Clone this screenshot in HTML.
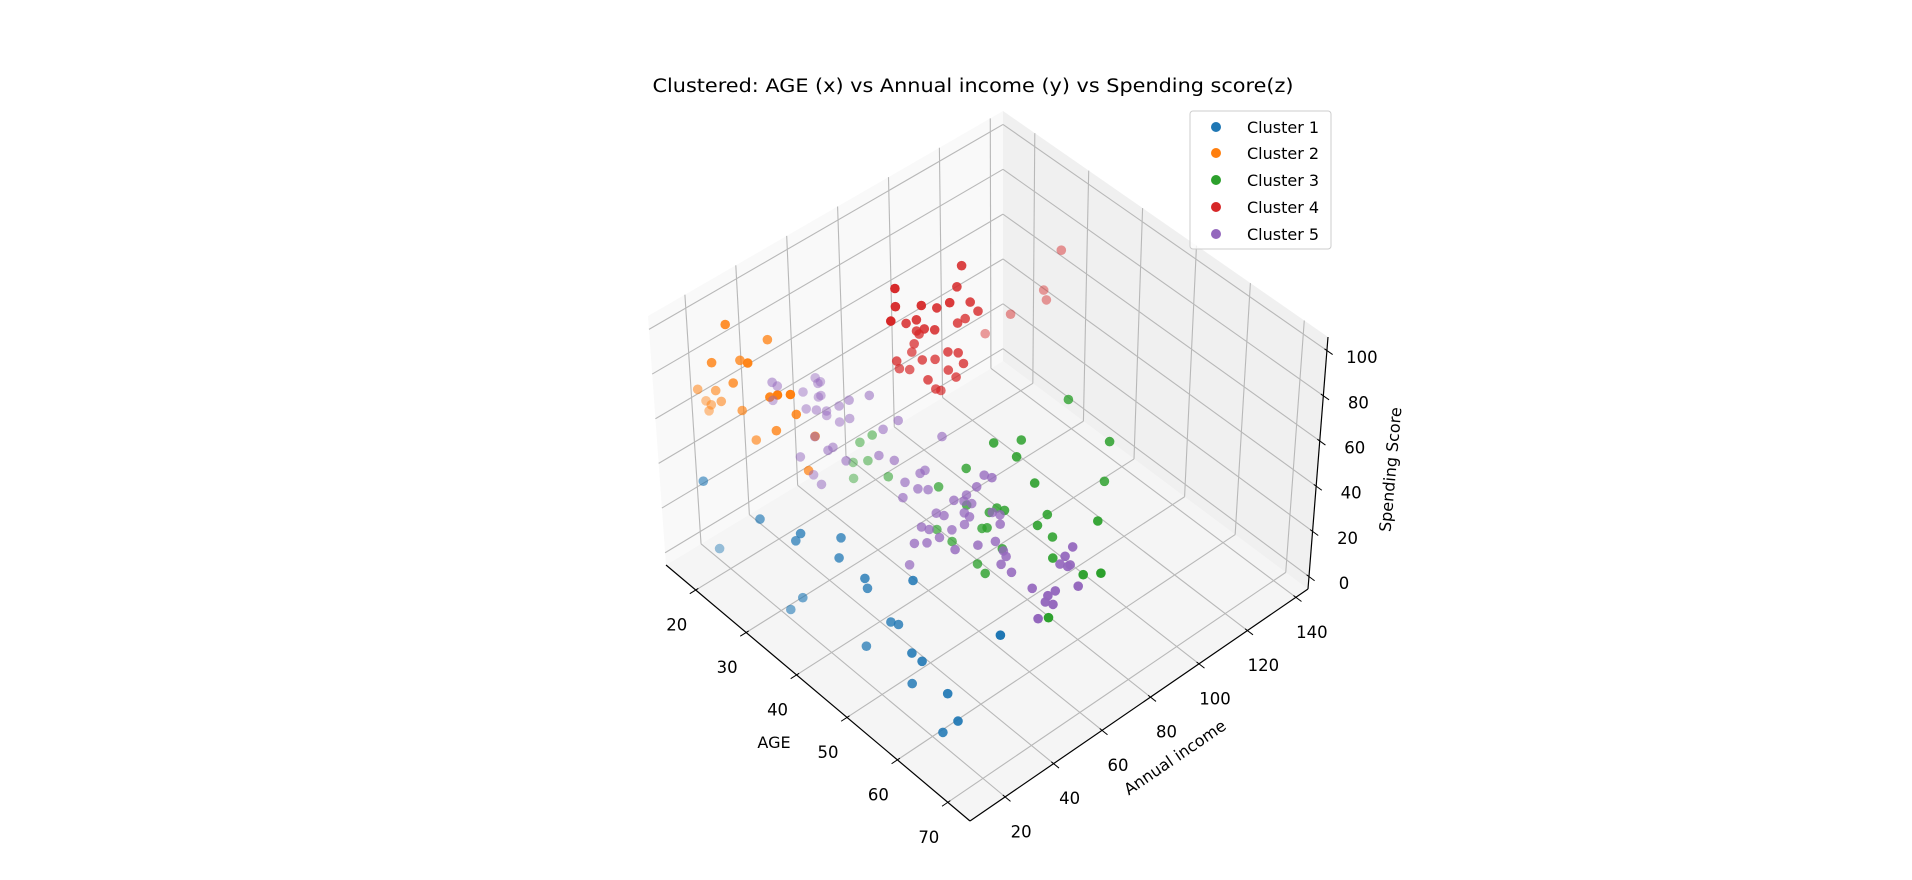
<!DOCTYPE html>
<html><head><meta charset="utf-8"><title>Clustered 3D scatter</title>
<style>html,body{margin:0;padding:0;background:#fff;}svg{display:block;}text{font-family:"DejaVu Sans","Liberation Sans",sans-serif;fill:#000;}</style>
</head><body>
<svg id="chart" xmlns="http://www.w3.org/2000/svg" width="1912" height="880" viewBox="0 0 1912 880">
<rect width="1912" height="880" fill="#fff"/>
<text x="973" y="92" text-anchor="middle" font-size="18.5" textLength="641" lengthAdjust="spacingAndGlyphs">Clustered: AGE (x) vs Annual income (y) vs Spending score(z)</text>
<g id="panes"></g>
<g id="grid"></g>
<g id="axes"></g>
<g id="points"></g>
<text x="774" y="748" text-anchor="middle" font-size="16">AGE</text>
<text x="0" y="0" text-anchor="middle" font-size="16" transform="translate(1178,762) rotate(-34.3)">Annual income</text>
<text x="0" y="0" text-anchor="middle" font-size="16" transform="translate(1396,470) rotate(-85)">Spending Score</text>
<g>
<rect x="1190" y="111" width="141" height="138" rx="3" fill="#fff" fill-opacity="0.8" stroke="#cccccc" stroke-width="1"/>
<g><circle cx="1216" cy="127" r="5" fill="#1f77b4"/><text x="1247" y="133" font-size="16">Cluster 1</text></g>
<g><circle cx="1216" cy="153" r="5" fill="#ff7f0e"/><text x="1247" y="159" font-size="16">Cluster 2</text></g>
<g><circle cx="1216" cy="180" r="5" fill="#2ca02c"/><text x="1247" y="186" font-size="16">Cluster 3</text></g>
<g><circle cx="1216" cy="207" r="5" fill="#d62728"/><text x="1247" y="213" font-size="16">Cluster 4</text></g>
<g><circle cx="1216" cy="234" r="5" fill="#9467bd"/><text x="1247" y="240" font-size="16">Cluster 5</text></g>
</g>
</svg>
<script>
// ---- data ----
var ageTicks = [20, 30, 40, 50, 60, 70];
var incomeTicks = [20, 40, 60, 80, 100, 120, 140];
var scoreTicks = [0, 20, 40, 60, 80, 100];
var clusterNames = ["Cluster 1", "Cluster 2", "Cluster 3", "Cluster 4", "Cluster 5"];
var clusterColors = ["#1f77b4", "#ff7f0e", "#2ca02c", "#d62728", "#9467bd"];

var age1 = [18,20,27,33,34,38,39,44,44,50,35,34,49,50,47,65,55,57,56,62,65,63];
var income1 = [15,16,19,21,21,29,26,26,27,33,19,16,26,27,20,37,22,22,20,22,20,18];
var score1 = [33,6,30,30,35,35,30,30,25,35,10,5,20,20,10,35,20,20,10,15,10,3];

var age2 = [18,22,19,21,23,18,20,22,19,20,20,21,24,27,28,29,30,29,27,33,34];
var income2 = [27,35,19,26,25,15,18,21,16,16,15,18,20,25,26,29,29,23,19,30,25];
var score2 = [95,90,85,85,88,74,75,80,70,70,68,72,72,80,82,82,75,70,65,70,60];

var age3 = [19,20,19,21,25,20,33,36,38,40,41,45,40,48,50,42,43,41,38,48,48,54,41,42,35,38,50,45,52,43,45,57,59,57];
var income3 = [76,79,73,75,75,71,79,84,91,98,94,93,117,117,111,84,85,83,80,92,88,100,80,80,74,74,90,80,86,74,73,88,91,74];
var score3 = [12,15,5,8,8,1,15,25,35,35,32,28,40,35,25,18,18,15,15,20,18,22,10,12,3,3,15,8,12,2,2,12,14,3];

var age4 = [34,35,36,34,33,30,31,27,28,32,33,34,30,31,33,33,30,29,29,31,30,30,32,30,30,30,32,31,30,34,35,36,33,35,36,34,35,35];
var income4 = [126,117,116,106,98,95,91,75,73,86,92,93,79,83,90,87,77,75,69,78,77,78,80,76,75,69,75,72,70,81,83,83,78,79,80,73,74,76];
var score4 = [90,80,78,75,70,97,92,95,90,90,88,85,90,88,82,82,85,83,88,82,80,78,82,75,72,72,72,68,68,75,75,72,72,70,68,68,65,63];

var age5 = [20,21,21,18,18,20,22,22,18,22,23,24,24,25,26,28,26,27,33,32,25,28,28,25,34,36,31,39,27,29,39,40,40,41,42,48,49,48,40,47,46,47,48,45,46,48,49,51,52,49,45,46,48,48,53,46,47,51,54,53,56,46,57,57,59,64,64,64,65,65,68,63,66,66,66,67,67];
var income5 = [57,56,57,44,46,52,54,55,44,49,51,53,53,56,58,62,54,56,63,59,46,47,45,40,53,55,46,68,41,40,53,57,59,54,56,66,67,63,50,61,58,60,61,53,54,58,58,63,64,56,47,48,53,48,62,42,45,48,58,53,57,40,56,54,54,65,68,63,65,64,62,54,57,54,53,54,48];
var score5 = [55,55,55,58,55,52,52,52,50,50,50,50,48,52,55,58,48,50,55,52,45,45,45,40,48,48,45,55,35,35,45,48,48,45,45,55,55,52,42,48,46,46,46,42,42,44,44,46,46,42,40,40,40,40,45,38,38,40,42,42,42,30,42,40,40,48,50,46,46,46,44,40,42,42,40,40,38];

var ages = [age1, age2, age3, age4, age5];
var incomes = [income1, income2, income3, income4, income5];
var scores = [score1, score2, score3, score4, score5];

// ---- axis limits & projection ----
var AMIN = 14.1, AMAX = 74.4, IMIN = 5.5, IMAX = 145, ZMIN = -5.5, ZMAX = 106;
var FL = [[666,565],[970,821],[1308,589],[1003,361]];
var TP = [[648,316],[974,556],[1328,337],[1003,111]];
function bil(c,u,v){
  return [c[0][0]*(1-u)*(1-v)+c[1][0]*u*(1-v)+c[2][0]*u*v+c[3][0]*(1-u)*v,
          c[0][1]*(1-u)*(1-v)+c[1][1]*u*(1-v)+c[2][1]*u*v+c[3][1]*(1-u)*v];
}
function P(u,v,w){ var a=bil(FL,u,v), b=bil(TP,u,v); return [a[0]+(b[0]-a[0])*w, a[1]+(b[1]-a[1])*w]; }
function xs(a){ return (a-AMIN)/(AMAX-AMIN); }
function ys(i){ return (i-IMIN)/(IMAX-IMIN); }
function zs(z){ return (z-ZMIN)/(ZMAX-ZMIN); }

var NS = "http://www.w3.org/2000/svg";
function mk(tag, attrs, parent){ var e=document.createElementNS(NS,tag); for(var k in attrs) e.setAttribute(k,attrs[k]); parent.appendChild(e); return e; }
function pts(arr){ return arr.map(function(p){return p[0].toFixed(1)+","+p[1].toFixed(1);}).join(" "); }
function line(p,q,col,wd,parent,name){
  var l = mk("line",{x1:p[0],y1:p[1],x2:q[0],y2:q[1],stroke:col,"stroke-width":wd},parent);
  
  
  return l;
}

var gp = document.getElementById("panes");
var floorPane = mk("polygon",{points:pts([P(0,0,0),P(1,0,0),P(1,1,0),P(0,1,0)]),fill:"#f5f5f5"},gp);


var leftPane = mk("polygon",{points:pts([P(0,0,0),P(0,1,0),P(0,1,1),P(0,0,1)]),fill:"#f9f9f9"},gp);


var rightPane = mk("polygon",{points:pts([P(0,1,0),P(1,1,0),P(1,1,1),P(0,1,1)]),fill:"#f0f0f0"},gp);



var gg = document.getElementById("grid");
var GC = "#b8b8b8", GW = 1.1;
ageTicks.forEach(function(t){
  var u = xs(t);
  line(P(u,0,0),P(u,1,0),GC,GW,gg,"age-gridline-floor");
  line(P(u,1,0),P(u,1,1),GC,GW,gg,"age-gridline-wall");
});
incomeTicks.forEach(function(t){
  var v = ys(t);
  line(P(0,v,0),P(1,v,0),GC,GW,gg,"income-gridline-floor");
  line(P(0,v,0),P(0,v,1),GC,GW,gg,"income-gridline-wall");
});
scoreTicks.forEach(function(t){
  var w = zs(t);
  line(P(0,0,w),P(0,1,w),GC,GW,gg,"score-gridline-left");
  line(P(0,1,w),P(1,1,w),GC,GW,gg,"score-gridline-right");
});

var ga = document.getElementById("axes");
line(P(0,0,0),P(1,0,0),"#000",1.2,ga,"x-axis-line");
line(P(1,0,0),P(1,1,0),"#000",1.2,ga,"y-axis-line");
line(P(1,1,0),P(1,1,1),"#000",1.2,ga,"z-axis-line");
function unit(a,b){ var dx=b[0]-a[0], dy=b[1]-a[1], n=Math.sqrt(dx*dx+dy*dy); return [dx/n,dy/n]; }
ageTicks.forEach(function(t){
  var u = xs(t), p = P(u,0,0), d = unit(P(u,0,0),P(u,1,0));
  line([p[0]-7*d[0],p[1]-7*d[1]],[p[0]+3*d[0],p[1]+3*d[1]],"#000",1,ga,"x-tick");
  var tx = mk("text",{x:p[0]-19,y:p[1]+35,"text-anchor":"middle","dominant-baseline":"central","font-size":"16.5"},ga);
  tx.textContent = t;
  
  
});
incomeTicks.forEach(function(t){
  var v = ys(t), p = P(1,v,0), d = unit(P(0,v,0),P(1,v,0));
  line([p[0]-3*d[0],p[1]-3*d[1]],[p[0]+7*d[0],p[1]+7*d[1]],"#000",1,ga,"y-tick");
  var tx = mk("text",{x:p[0]+16,y:p[1]+35,"text-anchor":"middle","dominant-baseline":"central","font-size":"16.5"},ga);
  tx.textContent = t;
  
  
});
scoreTicks.forEach(function(t){
  var w = zs(t), p = P(1,1,w), d = unit(P(0,1,w),P(1,1,w));
  line([p[0]-3*d[0],p[1]-3*d[1]],[p[0]+7*d[0],p[1]+7*d[1]],"#000",1,ga,"z-tick");
  var tx = mk("text",{x:p[0]+35,y:p[1]+7,"text-anchor":"middle","dominant-baseline":"central","font-size":"16.5"},ga);
  tx.textContent = t;
  
  
});

var gpt = document.getElementById("points");
for (var c = 0; c < ages.length; c++) {
  var list = [];
  for (var k = 0; k < ages[c].length; k++) {
    var u = xs(ages[c][k]), v = ys(incomes[c][k]), w = zs(scores[c][k]);
    var close = 0.5*(u + 1 - v) + 0.53*w;
    list.push({p:P(u,v,w), c:close});
  }
  var cmin = Infinity, cmax = -Infinity;
  list.forEach(function(o){ cmin = Math.min(cmin,o.c); cmax = Math.max(cmax,o.c); });
  list.sort(function(a,b){ return a.c - b.c; });
  list.forEach(function(o){
    var nd = cmax > cmin ? (cmax - o.c)/(cmax - cmin) : 0;
    var al = Math.max(0.3, 1 - 0.55*nd);
    var ci = mk("circle",{cx:o.p[0].toFixed(1),cy:o.p[1].toFixed(1),r:4.8,fill:clusterColors[c],"fill-opacity":al.toFixed(2)},gpt);
    
    
  });
}
</script>
</body></html>
